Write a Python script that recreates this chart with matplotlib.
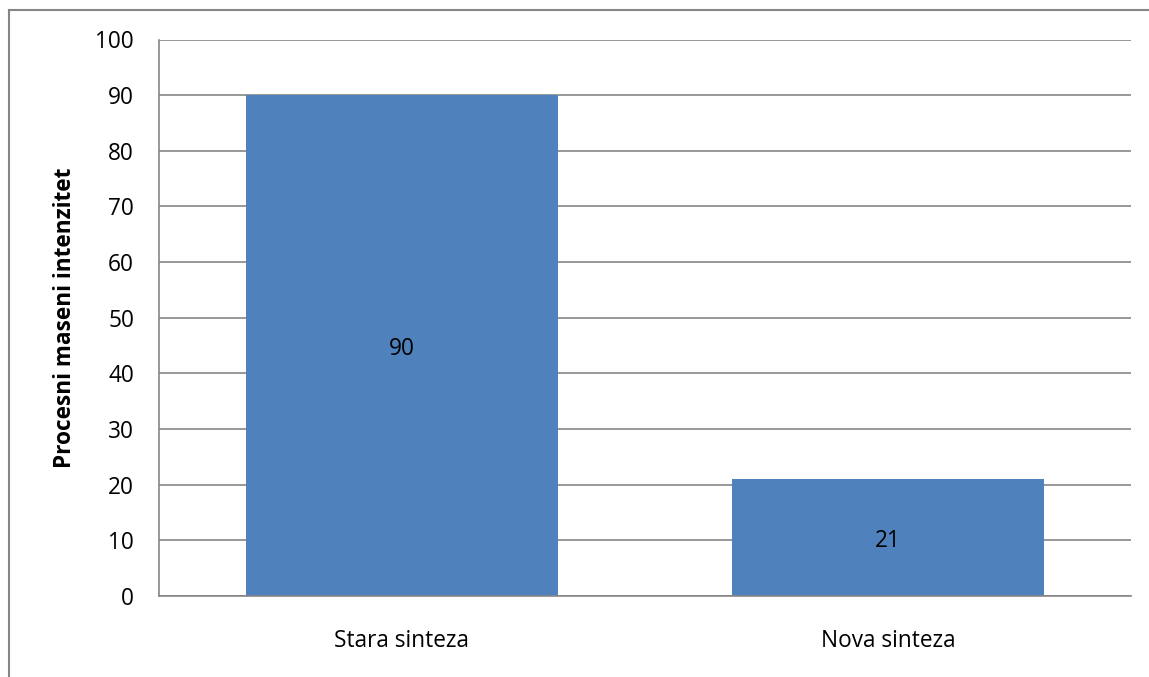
import matplotlib.pyplot as plt
from matplotlib.lines import Line2D

categories = ['Stara sinteza', 'Nova sinteza']
values = [90, 21]
yticks = [0, 10, 20, 30, 40, 50, 60, 70, 80, 90, 100]

plt.rcParams['font.family'] = ['Open Sans', 'DejaVu Sans']

fig = plt.figure(figsize=(11.49, 6.77), dpi=100)
ax = fig.add_axes([159 / 1149, 81 / 677, 972 / 1149, 556.5 / 677])

grid_c = '#868686'
bar_c = '#4f81bd'
fs = 16.3

x = range(len(categories))
bars = ax.bar(x, values, width=0.642, color=bar_c, zorder=2)
for b, v in zip(bars, values):
    ax.text(b.get_x() + b.get_width() / 2, v / 2, str(v), ha='center', va='center_baseline',
            fontsize=fs, color='black', zorder=3)

ax.set_xlim(-0.5, 1.5)
ax.set_ylim(0, 100)
ax.set_yticks(yticks)
ax.set_xticks(list(x))
ax.set_xticklabels(categories)
ax.yaxis.grid(True, color=grid_c, linewidth=1.2, zorder=0)
ax.set_axisbelow(True)
ax.tick_params(axis='both', length=0, labelsize=fs)
ax.tick_params(axis='y', pad=18)
ax.tick_params(axis='x', pad=24)

for side in ['top', 'right']:
    ax.spines[side].set_visible(False)
ax.spines['left'].set_color(grid_c)
ax.spines['bottom'].set_color(grid_c)
ax.spines['left'].set_linewidth(1.2)
ax.spines['bottom'].set_linewidth(1.2)

ax.set_ylabel('Procesni maseni intenzitet', fontsize=fs, fontweight='bold', labelpad=13)

# outer frame (left and top edges)
fx = 8.5 / 1149
fy = 1 - 9.5 / 677
fig.add_artist(Line2D([fx, fx], [0, fy], color=grid_c, linewidth=1.5))
fig.add_artist(Line2D([fx, 1], [fy, fy], color=grid_c, linewidth=1.5))

fig.savefig('out.png', dpi=100)
